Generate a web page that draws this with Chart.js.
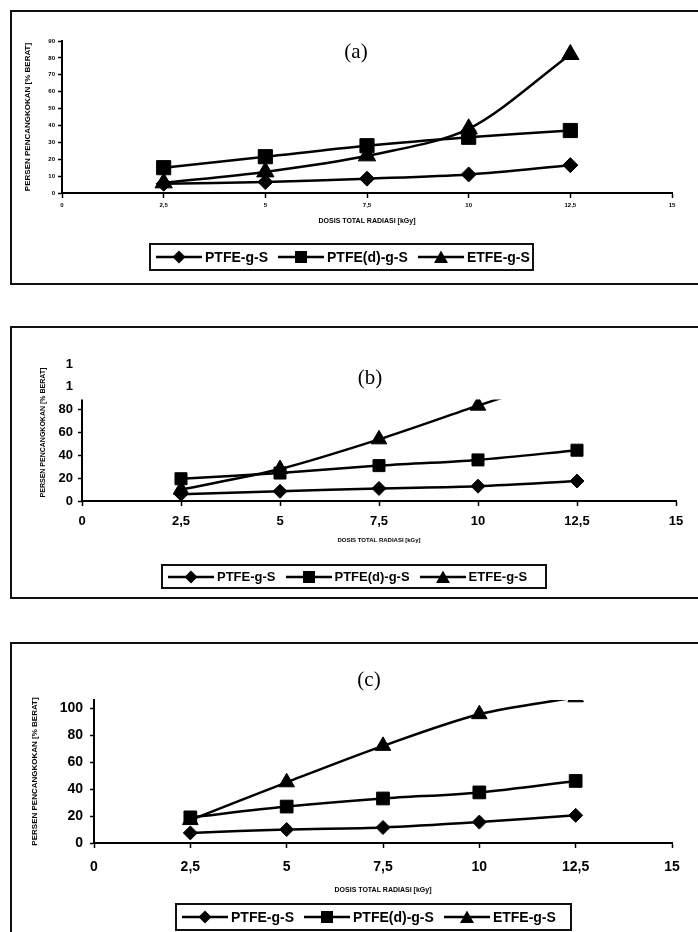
<!DOCTYPE html>
<html>
<head>
<meta charset="utf-8">
<script src="https://cdn.jsdelivr.net/npm/chart.js@4.4.1/dist/chart.umd.min.js"></script>
<style>
  html, body { margin: 0; padding: 0; background: #fff; }
  body { width: 698px; height: 932px; overflow: hidden; position: relative; font-family: "Liberation Sans", Arial, sans-serif; }
  .panel { position: absolute; left: 10px; width: 720px; border: 2px solid #111; box-sizing: border-box; }
  canvas { position: absolute; left: 12px; }
  .legend { position: absolute; border: 2px solid #111; box-sizing: border-box; display: flex; align-items: center; padding-left: 5px; font-weight: bold; white-space: nowrap; color: #000; }
  .legend svg { flex: none; }
  .legend span { margin: 0 10px 0 3px; }
</style>
</head>
<body>
<div class="panel" style="top:10px; height:275px;"></div>
<div class="panel" style="top:326px; height:273px;"></div>
<div class="panel" style="top:642px; height:300px;"></div>

<canvas id="chartA" width="686" height="271" style="top:12px;"></canvas>
<canvas id="chartB" width="686" height="268" style="top:328px;"></canvas>
<canvas id="chartC" width="686" height="288" style="top:644px;"></canvas>

<div class="legend" id="legendA" style="left:149px; top:243px; width:385px; height:28px;"></div>
<div class="legend" id="legendB" style="left:161px; top:564px; width:386px; height:25px;"></div>
<div class="legend" id="legendC" style="left:175px; top:903px; width:397px; height:28px;"></div>

<script>
// dose (kGy) shared by all panels
const doseKGy = [2.5, 5, 7.5, 10, 12.5];
const seriesNames = ['PTFE-g-S', 'PTFE(d)-g-S', 'ETFE-g-S'];
const seriesMarkers = ['rectRot', 'rect', 'triangle'];
const xTickLabels = ['0', '2,5', '5', '7,5', '10', '12,5', '15'];
const xTitle = 'DOSIS TOTAL RADIASI [kGy]';
const yTitle = 'PERSEN PENCANGKOKAN [% BERAT]';

// panel (a)
const ptfeA = [5.5, 6.5, 8.5, 11, 16.5];
const ptfeDA = [15, 21.5, 28, 33, 37];
const etfeA = [6, 12.5, 22, 38, 82];
const yTicksA = ['0', '10', '20', '30', '40', '50', '60', '70', '80', '90'];

// panel (b)
const ptfeB = [6, 8.5, 11, 13, 17.5];
const ptfeDB = [19.5, 24.5, 31, 36, 44.5];
const etfeB = [10, 28, 54, 83.5, 112];
const yTicksB = ['0', '20', '40', '60', '80', '1', '1'];

// panel (c)
const ptfeC = [7.5, 10, 11.5, 15.5, 20.5];
const ptfeDC = [19, 27, 33, 37.5, 46];
const etfeC = [17, 45, 72, 95.5, 108];
const yTicksC = ['0', '20', '40', '60', '80', '100'];

Chart.defaults.font.family = '"Liberation Sans", Arial, sans-serif';
Chart.defaults.color = '#000';

// "(a)", "(b)", "(c)" labels
const panelTag = {
  id: 'panelTag',
  afterDraw(chart, args, opts) {
    const ctx = chart.ctx;
    ctx.save();
    ctx.font = '21px "Liberation Serif", "Times New Roman", serif';
    ctx.fillStyle = '#000';
    ctx.textAlign = 'center';
    ctx.textBaseline = 'middle';
    ctx.fillText(opts.text, opts.x, opts.y);
    ctx.restore();
  }
};

// panel (b): plot is cut off above a value, axis line stops there too
const cutTop = {
  id: 'cutTop',
  beforeDatasetsDraw(chart, args, opts) {
    if (opts.value == null) return;
    const { ctx, chartArea, scales } = chart;
    const top = scales.y.getPixelForValue(opts.value);
    ctx.save();
    ctx.beginPath();
    ctx.rect(chartArea.left - 15, top, chartArea.right - chartArea.left + 30, chartArea.bottom - top + 15);
    ctx.clip();
  },
  afterDatasetsDraw(chart, args, opts) {
    if (opts.value == null) return;
    const { ctx, chartArea, scales } = chart;
    ctx.restore();
    ctx.save();
    ctx.strokeStyle = '#000';
    ctx.lineWidth = 2;
    ctx.beginPath();
    ctx.moveTo(chartArea.left, scales.y.getPixelForValue(0) + 1);
    ctx.lineTo(chartArea.left, scales.y.getPixelForValue(opts.value));
    ctx.stroke();
    ctx.restore();
  }
};

function pts(ys) {
  return doseKGy.map((x, i) => ({ x: x, y: ys[i] }));
}

function makeChart(id, p) {
  const datasets = p.series.map((ys, i) => ({
    label: seriesNames[i],
    data: pts(ys),
    borderColor: '#000',
    backgroundColor: '#000',
    borderWidth: 2.5,
    pointStyle: seriesMarkers[i],
    pointRadius: p.radius[i],
    pointBorderWidth: 1,
    tension: 0.3
  }));

  return new Chart(document.getElementById(id), {
    type: 'line',
    data: { datasets: datasets },
    plugins: [panelTag, cutTop],
    options: {
      responsive: false,
      animation: false,
      layout: { padding: p.pad },
      plugins: {
        legend: { display: false },
        tooltip: { enabled: false },
        panelTag: p.tag,
        cutTop: { value: p.cut }
      },
      scales: {
        x: {
          type: 'linear',
          min: 0,
          max: 15,
          ticks: {
            stepSize: 2.5,
            autoSkip: false,
            maxRotation: 0,
            padding: p.xPad,
            color: '#000',
            font: { size: p.tickFont, weight: 'bold' },
            callback: (v, i) => xTickLabels[i]
          },
          grid: { drawOnChartArea: false, tickLength: 5, tickColor: '#000', tickWidth: 1.5 },
          border: { color: '#000', width: 2 },
          title: { display: true, text: xTitle, color: '#000', font: { size: p.xTitleFont, weight: 'bold' }, padding: 0 },
          afterFit: s => { s.height = p.xH; }
        },
        y: {
          min: 0,
          max: p.yMax,
          ticks: {
            stepSize: p.yStep,
            includeBounds: false,
            padding: p.yPad,
            color: '#000',
            font: { size: p.tickFont, weight: 'bold' },
            callback: (v, i) => p.yTicks[i]
          },
          grid: {
            drawOnChartArea: false,
            tickLength: 4,
            tickWidth: 1.5,
            tickColor: c => (p.cut != null && c.tick && c.tick.value > p.cut) ? 'rgba(0,0,0,0)' : '#000'
          },
          border: { display: p.cut == null, color: '#000', width: 2 },
          title: { display: true, text: yTitle, color: '#000', font: { size: p.yTitleFont, weight: 'bold' }, padding: 0 },
          afterFit: s => { s.width = p.yW; }
        }
      }
    }
  });
}

makeChart('chartA', {
  series: [ptfeA, ptfeDA, etfeA],
  radius: [7.5, 10, 10],
  yMax: 90, yStep: 10, yTicks: yTicksA,
  pad: { left: 11, top: 29, right: 26, bottom: 58 },
  yW: 39, xH: 32,
  tickFont: 6, xPad: 4, yPad: 3,
  xTitleFont: 7, yTitleFont: 8,
  tag: { text: '(a)', x: 344, y: 40 }
});

makeChart('chartB', {
  series: [ptfeB, ptfeDB, etfeB],
  radius: [7, 8.5, 9],
  yMax: 120, yStep: 20, yTicks: yTicksB,
  cut: 89,
  pad: { left: 27, top: 36, right: 22, bottom: 52 },
  yW: 43, xH: 43,
  tickFont: 13, xPad: 8, yPad: 5,
  xTitleFont: 6, yTitleFont: 7,
  tag: { text: '(b)', x: 358, y: 50 }
});

makeChart('chartC', {
  series: [ptfeC, ptfeDC, etfeC],
  radius: [7, 9, 9],
  yMax: 106, yStep: 20, yTicks: yTicksC,
  pad: { left: 18, top: 56, right: 26, bottom: 38 },
  yW: 64, xH: 51,
  tickFont: 14, xPad: 11, yPad: 7,
  xTitleFont: 7, yTitleFont: 8,
  tag: { text: '(c)', x: 357, y: 36 }
});

// legends: line with marker, boxed
const markerSvg = {
  rectRot: '<polygon points="23,1.5 29.5,8 23,14.5 16.5,8"/>',
  rect: '<rect x="17" y="2" width="12" height="12"/>',
  triangle: '<polygon points="23,1.5 30,14 16,14"/>'
};

function makeLegend(id, fontSize) {
  const el = document.getElementById(id);
  el.style.fontSize = fontSize + 'px';
  el.innerHTML = seriesNames.map((name, i) =>
    '<svg width="46" height="16"><line x1="0" y1="8" x2="46" y2="8" stroke="#000" stroke-width="2.5"/>' +
    '<g fill="#000">' + markerSvg[seriesMarkers[i]] + '</g></svg><span>' + name + '</span>'
  ).join('');
}

makeLegend('legendA', 14);
makeLegend('legendB', 13);
makeLegend('legendC', 14);
</script>
</body>
</html>
